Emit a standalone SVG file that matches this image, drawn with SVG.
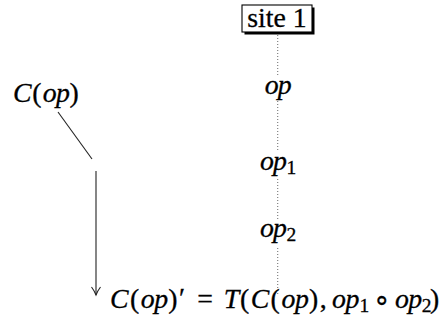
<svg xmlns="http://www.w3.org/2000/svg" width="440" height="320" viewBox="0 0 440 320">
<style>
  text { font-family: "Liberation Serif", "Times New Roman", serif; font-size: 27.8px; fill: #000; stroke: #000; stroke-width: 0.3; }
  .it { font-style: italic; }
  .sub { font-size: 19.5px; }
  .dot { stroke: #777; stroke-width: 1.1; stroke-dasharray: 1 2; fill: none; }
  .ln { stroke: #222; stroke-width: 1.1; fill: none; }
  .bg { fill: #fff; }
</style>
<defs>
  <marker id="vhead" markerWidth="12" markerHeight="12" refX="10" refY="6" orient="auto" markerUnits="userSpaceOnUse">
    <path d="M2,1.5 Q6,4.5 10,6 Q6,7.5 2,10.5" fill="none" stroke="#222" stroke-width="1.1"/>
  </marker>
</defs>
<rect width="440" height="320" fill="#fff"/>
<g id="connectors">
  <line class="dot" x1="277.7" y1="35" x2="277.7" y2="295"/>
  <line class="ln" x1="58" y1="112" x2="92" y2="159"/>
  <line class="ln" x1="96" y1="171" x2="96" y2="295" marker-end="url(#vhead)"/>
</g>
<g id="site1">
  <rect x="244.5" y="7.5" width="70" height="27" fill="#000"/>
  <rect x="242" y="5" width="70" height="27" fill="#fff" stroke="#000" stroke-width="1.1"/>
  <text x="277" y="27" text-anchor="middle">site 1</text>
</g>
<g id="op">
  <rect class="bg" x="262" y="76" width="32" height="25"/>
  <text y="94" class="it"><tspan x="264.7">o</tspan><tspan x="277.8">p</tspan></text>
</g>
<g id="op1">
  <rect class="bg" x="257" y="152" width="42" height="27"/>
  <text y="170"><tspan x="259.9" class="it">o</tspan><tspan x="273" class="it">p</tspan><tspan class="sub" x="286.6" dy="4">1</tspan></text>
</g>
<g id="op2">
  <rect class="bg" x="257" y="221" width="42" height="27"/>
  <text y="237"><tspan x="259.9" class="it">o</tspan><tspan x="273" class="it">p</tspan><tspan class="sub" x="286.6" dy="4">2</tspan></text>
</g>
<g id="Cop">
  <text y="102"><tspan x="13" class="it">C</tspan><tspan x="32.3">(</tspan><tspan x="42.8" class="it">o</tspan><tspan x="55.9" class="it">p</tspan><tspan x="69.5">)</tspan></text>
</g>
<g id="result">
  <text y="308"><tspan x="110" class="it">C</tspan><tspan x="129.9">(</tspan><tspan x="140.7" class="it">o</tspan><tspan x="154.2" class="it">p</tspan><tspan x="168.2">)</tspan><tspan x="179" dy="-1">′</tspan><tspan x="197.3" dy="1">=</tspan><tspan x="223.7" class="it">T</tspan><tspan x="239.9">(</tspan><tspan x="250.8" class="it">C</tspan><tspan x="270.6">(</tspan><tspan x="281.4" class="it">o</tspan><tspan x="294.9" class="it">p</tspan><tspan x="308.9">)</tspan><tspan x="319.7">,</tspan><tspan x="332.1" class="it">o</tspan><tspan x="345.6" class="it">p</tspan><tspan x="359.6" class="sub" dy="4">1</tspan></text>
  <text x="381.5" y="308" text-anchor="middle">∘</text>
  <text y="308"><tspan x="395" class="it">o</tspan><tspan x="408.3" class="it">p</tspan><tspan x="421.8" class="sub" dy="4">2</tspan><tspan x="430" dy="-4">)</tspan></text>
</g>
</svg>
